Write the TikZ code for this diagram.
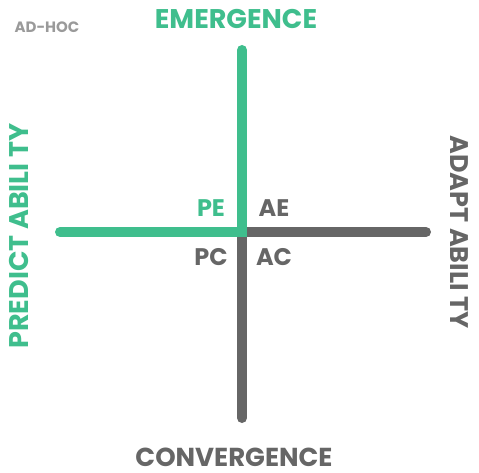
\documentclass[tikz,border=0pt]{standalone}
\usepackage{fontspec}
\setmainfont{Poppins}
\definecolor{mgreen}{HTML}{3FBE8D}
\definecolor{mgray}{HTML}{666666}
\definecolor{lgray}{HTML}{9A9A9A}
\begin{document}
\begin{tikzpicture}[x=1pt,y=-1pt,
  bar/.style={line width=10pt,line cap=round},
  lbl/.style={font=\bfseries\fontsize{24}{24}\selectfont,inner sep=0pt,anchor=base},
  axis/.style={inner sep=0pt}]
\useasboundingbox (0,0) rectangle (479,473);
\coordinate (c) at (242,232);
\coordinate (top) at (242,50);
\coordinate (bot) at (242,418);
\coordinate (left) at (60,232);
\coordinate (right) at (426,232);
\draw[bar,mgray] (c) -- (bot);
\draw[bar,mgray] (c) -- (right);
\draw[bar,mgreen] (top) -- (c);
\draw[bar,mgreen] (left) -- (c);
\fill[mgreen] (237,227) rectangle (247,237);
\node[axis,mgreen,anchor=base,font=\bfseries\fontsize{27}{27}\selectfont] (em) at (236,29) {EMERGENCE};
\node[axis,mgray,anchor=base,font=\bfseries\fontsize{26}{26}\selectfont] (co) at (234,466) {CONVERGENCE};
\node[font=\bfseries\fontsize{15}{15}\selectfont,lgray,inner sep=0pt,anchor=base] (ah) at (47,33) {AD-HOC};
\node[axis,mgreen,rotate=90,font=\bfseries\fontsize{27}{27}\selectfont] (pr) at (19,236) {PREDICT ABILI TY};
\node[axis,mgray,rotate=-90,font=\bfseries\fontsize{25.5}{25.5}\selectfont] (ad) at (459,232) {ADAPT ABILI TY};
\node[lbl,mgreen] (pe) at (211,217) {PE};
\node[lbl,mgray] (ae) at (274,217) {AE};
\node[lbl,mgray] (pc) at (211,265) {PC};
\node[lbl,mgray] (ac) at (274,265) {AC};
\end{tikzpicture}
\end{document}
